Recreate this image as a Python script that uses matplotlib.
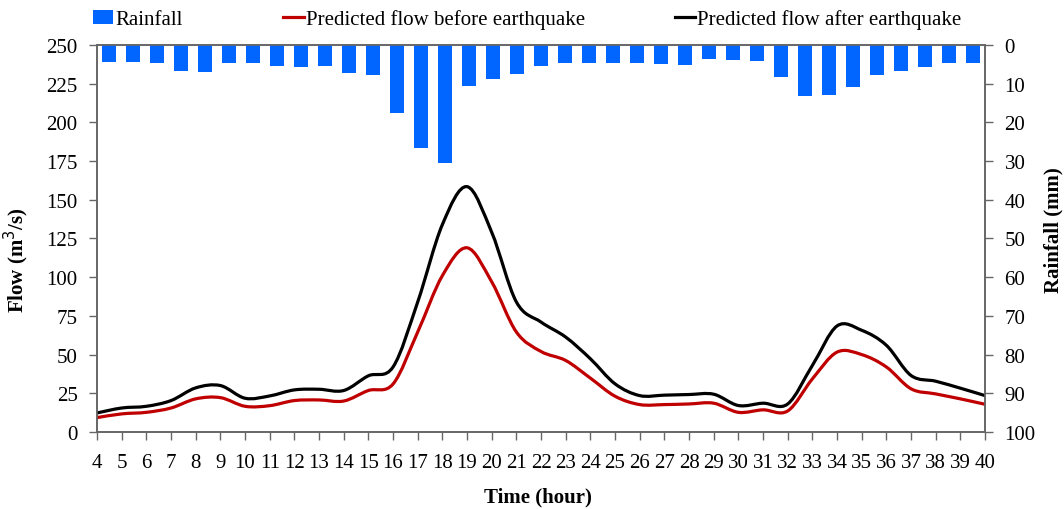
import matplotlib.pyplot as plt
import numpy as np
from matplotlib.path import Path
from matplotlib.patches import PathPatch, Patch
from matplotlib.lines import Line2D

plt.rcParams['font.family'] = ['Liberation Serif', 'DejaVu Serif']

hours = list(range(4, 41))

rainfall = [4.5, 4.5, 4.7, 6.8, 7.0, 4.6, 4.7, 5.4, 5.6, 5.4, 7.2, 7.8, 17.5,
            26.6, 30.6, 10.6, 8.8, 7.5, 5.4, 4.6, 4.7, 4.7, 4.7, 4.9, 5.1, 3.6,
            3.9, 4.1, 8.2, 13.2, 12.9, 10.9, 7.7, 6.6, 5.7, 4.7, 4.7]

flow_before = [9.3, 11.7, 12.7, 15.5, 21.4, 22.2, 16.6, 17.0, 20.3, 20.7, 20.0,
               26.8, 31.0, 64.6, 101.0, 119.0, 97.0, 64.6, 52.0, 46.2, 34.8,
               23.1, 17.7, 17.7, 18.1, 18.6, 12.7, 14.3, 13.6, 34.3, 51.6, 50.0,
               42.0, 27.9, 24.6, 21.4, 17.9]

flow_after = [12.3, 15.5, 16.6, 20.3, 28.5, 30.0, 21.8, 23.3, 27.2, 27.6, 26.8,
              36.3, 42.0, 84.0, 134.0, 158.5, 129.0, 84.0, 71.0, 61.3, 47.3,
              31.1, 23.5, 23.8, 24.2, 24.4, 17.1, 18.6, 18.1, 43.0, 68.5, 65.7,
              56.0, 36.5, 32.8, 28.3, 23.5]

FS = 15


def smooth_path(x, y):
    # catmull-rom style bezier, like excel's smoothed line
    pts = np.column_stack([np.asarray(x, float), np.asarray(y, float)])
    n = len(pts)
    verts = [pts[0]]
    codes = [Path.MOVETO]
    for i in range(n - 1):
        p0 = pts[max(i - 1, 0)]
        p1 = pts[i]
        p2 = pts[i + 1]
        p3 = pts[min(i + 2, n - 1)]
        verts += [p1 + (p2 - p0) / 6.0, p2 - (p3 - p1) / 6.0, p2]
        codes += [Path.CURVE4] * 3
    return Path(verts, codes)


fig = plt.figure(figsize=(10.64, 5.10), dpi=100)
ax = fig.add_axes([0.0912, 0.151, 0.8346, 0.7588])
ax2 = ax.twinx()

# rainfall bars, one category per hour across the x range
ncat = len(hours)
step = (hours[-1] - hours[0]) / ncat
xpos = hours[0] + (np.arange(ncat) + 0.5) * step
ax2.bar(xpos, rainfall, width=step * 0.6, color='#0066FF', zorder=2)
ax2.set_ylim(100, 0)
ax2.set_yticks(range(0, 101, 10))

ax.add_patch(PathPatch(smooth_path(hours, flow_before), fill=False,
                       edgecolor='#C00000', linewidth=2.3, zorder=3))
ax.add_patch(PathPatch(smooth_path(hours, flow_after), fill=False,
                       edgecolor='black', linewidth=2.3, zorder=3))
ax.set_xlim(4, 40)
ax.set_ylim(0, 250)
ax.set_xticks(hours)
ax.set_yticks(range(0, 251, 25))

for a in (ax, ax2):
    for s in a.spines.values():
        s.set_color('#666666')
        s.set_linewidth(1.2)
    a.tick_params(labelsize=FS, colors='#666666', labelcolor='black',
                  length=6, width=1, pad=8)
ax.tick_params(axis='x', pad=9)

ax.set_ylabel('Flow (m$^3$/s)', fontsize=FS, fontweight='bold')
ax.yaxis.set_label_coords(-0.074, 0.447)
ax2.set_ylabel('Rainfall (mm)', fontsize=FS, fontweight='bold')
ax2.yaxis.set_label_coords(1.066, 0.525)
ax.set_xlabel('Time (hour)', fontsize=FS, fontweight='bold')
ax.xaxis.set_label_coords(0.497, -0.14)

legend_items = [
    (Patch(facecolor='#0066FF'), 'Rainfall', 0.087),
    (Line2D([], [], color='#C00000', linewidth=2.3), 'Predicted flow before earthquake', 0.266),
    (Line2D([], [], color='black', linewidth=2.3), 'Predicted flow after earthquake', 0.634),
]
for handle, label, xl in legend_items:
    fig.legend([handle], [label], loc='center left', bbox_to_anchor=(xl, 0.96),
               frameon=False, fontsize=FS, handlelength=1.0,
               handleheight=0.65, handletextpad=0.08, borderpad=0, borderaxespad=0)

plt.savefig('out.png', dpi=100)
plt.close()
